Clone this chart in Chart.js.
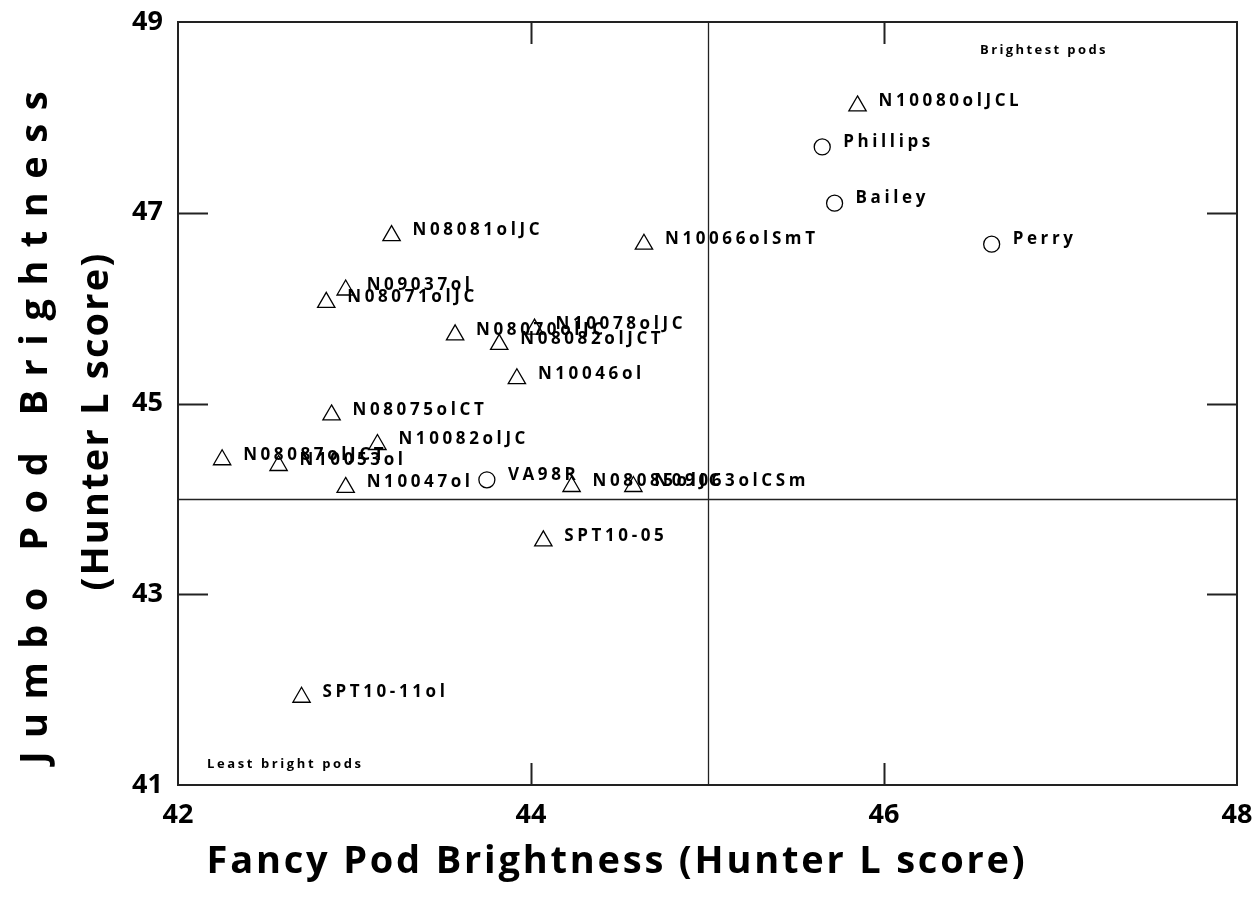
<!DOCTYPE html>
<html>
<head>
<meta charset="utf-8">
<script src="https://cdn.jsdelivr.net/npm/chart.js@4"></script>
<style>
  html, body { margin: 0; padding: 0; background: #fff; }
  #wrap { width: 1257px; height: 911px; }
</style>
</head>
<body>
<div id="wrap"><canvas id="podChart" width="1257" height="911"></canvas></div>
<script>
// breeding lines (triangles)
const lineNames = ["N10080olJCL", "N08081olJC", "N10066olSmT", "N09037ol", "N08071olJC",
  "N08070olJC", "N08082olJCT", "N10078olJC", "N10046ol", "N08075olCT", "N10082olJC",
  "N08087olJCT", "N10053ol", "N10047ol", "N08085olJC", "N09063olCSm", "SPT10-05", "SPT10-11ol"];
const lineFancy = [45.85, 43.21, 44.64, 42.95, 42.84, 43.57, 43.82, 44.02, 43.92, 42.87, 43.13,
  42.25, 42.57, 42.95, 44.23, 44.58, 44.07, 42.70];
const lineJumbo = [48.12, 46.76, 46.67, 46.19, 46.06, 45.72, 45.62, 45.78, 45.26, 44.88, 44.57,
  44.41, 44.35, 44.12, 44.13, 44.13, 43.56, 41.92];

// released cultivars (circles)
const cultivarNames = ["Phillips", "Bailey", "Perry", "VA98R"];
const cultivarFancy = [45.65, 45.72, 46.61, 43.75];
const cultivarJumbo = [47.69, 47.10, 46.67, 44.20];

const xTicks = [42, 44, 46, 48];
const yTicks = [41, 43, 45, 47, 49];
const xRef = 45;
const yRef = 44;

const FONT = "'Open Sans', 'DejaVu Sans', sans-serif";

function toPoints(xs, ys) {
  return xs.map((x, i) => ({ x: x, y: ys[i] }));
}

// reference lines, inward ticks, point names and corner notes
const decorations = {
  id: "decorations",
  beforeDatasetsDraw(chart) {
    const { ctx, chartArea: a, scales: { x, y } } = chart;
    ctx.save();
    ctx.strokeStyle = "#222";
    ctx.lineWidth = 1.3;
    ctx.beginPath();
    const rx = Math.round(x.getPixelForValue(xRef)) + 0.5;
    const ry = Math.round(y.getPixelForValue(yRef)) + 0.5;
    ctx.moveTo(rx, a.top); ctx.lineTo(rx, a.bottom);
    ctx.moveTo(a.left, ry); ctx.lineTo(a.right, ry);
    ctx.stroke();
    // inward tick marks
    ctx.beginPath();
    ctx.lineWidth = 2;
    [44, 46].forEach(v => {
      const px = Math.round(x.getPixelForValue(v)) + 0.5;
      ctx.moveTo(px, a.top); ctx.lineTo(px, a.top + 22);
      ctx.moveTo(px, a.bottom); ctx.lineTo(px, a.bottom - 22);
    });
    [43, 45, 47].forEach(v => {
      const py = Math.round(y.getPixelForValue(v)) + 0.5;
      ctx.moveTo(a.left, py); ctx.lineTo(a.left + 30, py);
      ctx.moveTo(a.right, py); ctx.lineTo(a.right - 30, py);
    });
    ctx.stroke();
    // frame
    ctx.strokeRect(a.left, a.top, a.right - a.left, a.bottom - a.top);
    ctx.restore();
  },
  afterDatasetsDraw(chart) {
    const { ctx, chartArea: a } = chart;
    ctx.save();
    ctx.fillStyle = "#000";
    ctx.font = "bold 17px " + FONT;
    ctx.letterSpacing = "3.6px";
    ctx.textBaseline = "middle";
    ctx.textAlign = "left";
    chart.data.datasets.forEach((ds, di) => {
      const meta = chart.getDatasetMeta(di);
      meta.data.forEach((pt, i) => {
        ctx.fillText(ds.names[i], pt.x + 21, pt.y - 5);
      });
    });
    ctx.font = "bold 13px " + FONT;
    ctx.letterSpacing = "2.4px";
    ctx.textAlign = "center";
    ctx.fillText("Brightest pods", 1044, 50);
    ctx.textAlign = "left";
    ctx.letterSpacing = "2.6px";
    ctx.fillText("Least bright pods", a.left + 29, 764);
    // axis titles
    ctx.font = "bold 38px " + FONT;
    ctx.letterSpacing = "2.8px";
    ctx.textAlign = "center";
    ctx.fillText("Fancy Pod Brightness (Hunter L score)", 617, 862);
    ctx.save();
    ctx.translate(36, 428);
    ctx.rotate(-Math.PI / 2);
    ctx.letterSpacing = "13.5px";
    ctx.fillText("Jumbo Pod Brightness", 7, 0);
    ctx.restore();
    ctx.save();
    ctx.translate(97, 422);
    ctx.rotate(-Math.PI / 2);
    ctx.letterSpacing = "2.2px";
    ctx.fillText("(Hunter L score)", 1, 0);
    ctx.restore();
    ctx.restore();
  }
};

const ctx = document.getElementById("podChart").getContext("2d");
const podChart = new Chart(ctx, {
  type: "scatter",
  data: {
    datasets: [{
      label: "Breeding lines",
      names: lineNames,
      data: toPoints(lineFancy, lineJumbo),
      pointStyle: "triangle",
      pointRadius: 10,
      backgroundColor: "#fff",
      borderColor: "#000",
      borderWidth: 1.3
    }, {
      label: "Cultivars",
      names: cultivarNames,
      data: toPoints(cultivarFancy, cultivarJumbo),
      pointStyle: "circle",
      pointRadius: 8,
      backgroundColor: "#fff",
      borderColor: "#000",
      borderWidth: 1.3
    }]
  },
  options: {
    responsive: false,
    animation: false,
    layout: { padding: { top: 22, right: 20, left: 0, bottom: 0 } },
    plugins: {
      legend: { display: false },
      tooltip: { enabled: false }
    },
    scales: {
      x: {
        type: "linear",
        min: 42,
        max: 48,
        afterBuildTicks: s => { s.ticks = xTicks.map(v => ({ value: v })); },
        afterFit: s => {
          s.height = 911 - 785;
          s.paddingLeft = 0;
          s.paddingRight = 0;
        },
        grid: { display: false, drawTicks: false },
        border: { display: false },
        ticks: {
          padding: 14,
          color: "#000",
          font: { family: FONT, size: 27, weight: "bold" }
        }
      },
      y: {
        type: "linear",
        min: 41,
        max: 49,
        afterBuildTicks: s => { s.ticks = yTicks.map(v => ({ value: v })); },
        afterFit: s => {
          s.width = 178;
          s.paddingTop = 0;
          s.paddingBottom = 0;
        },
        grid: { display: false, drawTicks: false },
        border: { display: false },
        ticks: {
          padding: 15,
          color: "#000",
          font: { family: FONT, size: 27, weight: "bold" }
        }
      }
    }
  },
  plugins: [decorations]
});
</script>
</body>
</html>
